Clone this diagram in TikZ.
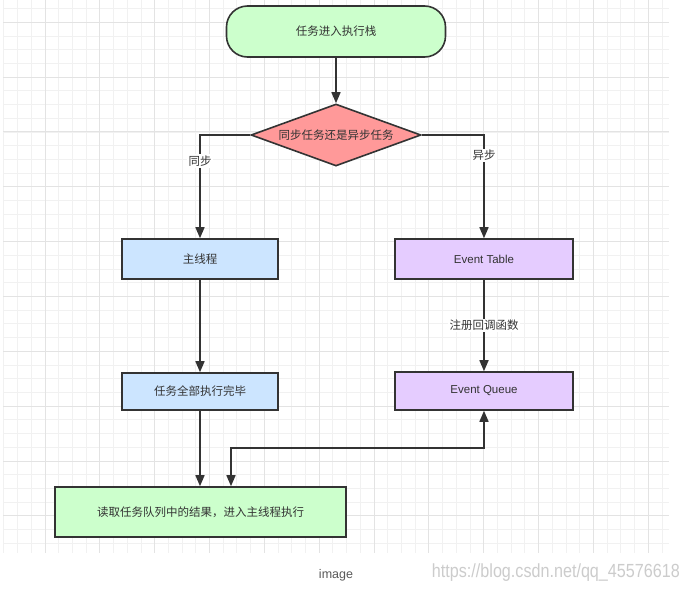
\documentclass[tikz,border=0pt]{standalone}
\usepackage{fontspec}
\setmainfont{Liberation Sans}
\newfontfamily\cjk{Noto Sans CJK SC}
\usetikzlibrary{shapes.geometric,arrows.meta}

\definecolor{ink}{HTML}{333333}
\definecolor{startgreen}{HTML}{CCFFCC}
\definecolor{decred}{HTML}{FF9999}
\definecolor{syncblue}{HTML}{CCE5FF}
\definecolor{asyncpurple}{HTML}{E5CCFF}
\definecolor{gridminor}{HTML}{F1F1F1}
\definecolor{gridmajor}{HTML}{E3E3E3}

\tikzset{
  txt/.style={text=ink, font=\fontsize{11.5}{14}\selectfont},
  cjktxt/.style={text=ink, font=\cjk\fontsize{11.5}{14}\selectfont},
  box/.style={draw=ink, line width=1.6pt, inner sep=0pt, rectangle},
  conn/.style={draw=ink, line width=1.6pt, -{Triangle[length=11pt,width=9pt]}},
  bothconn/.style={draw=ink, line width=1.6pt, {Triangle[length=11pt,width=9pt]}-{Triangle[length=11pt,width=9pt]}},
  edgelabel/.style={cjktxt, fill=white, inner sep=1.5pt},
  minorline/.style={draw=gridminor, line width=0.9pt},
  majorline/.style={draw=gridmajor, line width=1pt}
}

\begin{document}
\begin{tikzpicture}[x=1pt, y=-1pt]
  % page and background
  \useasboundingbox (0,0) rectangle (688,592);
  \fill[white] (0,0) rectangle (688,592);

  % grid paper
  \foreach \i in {-3,...,45}
    \draw[minorline] ({45+13.71*\i},0) -- ({45+13.71*\i},553);
  \foreach \i in {-1,...,38}
    \draw[minorline] (3,{22.3+13.71*\i}) -- (669,{22.3+13.71*\i});
  \foreach \j in {0,...,11}
    \draw[majorline] ({45+54.84*\j},0) -- ({45+54.84*\j},553);
  \foreach \j in {0,...,9}
    \draw[majorline] (3,{22.3+54.84*\j}) -- (669,{22.3+54.84*\j});

  % flowchart nodes
  \node[box, cjktxt, fill=startgreen, rounded corners=21pt,
        minimum width=219pt, minimum height=51pt] (start) at (336,31.5) {任务进入执行栈};
  \node[draw=ink, line width=1.6pt, diamond, aspect=2.74, inner sep=0pt,
        fill=decred, cjktxt, minimum width=170pt, minimum height=62pt] (dec) at (336,135) {同步任务还是异步任务};
  \node[box, cjktxt, fill=syncblue, minimum width=156pt, minimum height=40pt] (main) at (200,259) {主线程};
  \node[box, txt, fill=asyncpurple, minimum width=178pt, minimum height=40pt] (table) at (484,259) {Event Table};
  \node[box, cjktxt, fill=syncblue, minimum width=156pt, minimum height=37pt] (done) at (200,391.5) {任务全部执行完毕};
  \node[box, txt, fill=asyncpurple, minimum width=178pt, minimum height=38pt] (queue) at (484,391) {Event Queue};
  \node[box, cjktxt, fill=startgreen, minimum width=291pt, minimum height=50pt] (read) at (200.5,512) {读取任务队列中的结果，进入主线程执行};

  % connectors
  \draw[conn] (start.south) -- (dec.north);
  \draw[conn] (dec.west) -| (main.north) node[edgelabel, pos=0.625] {同步};
  \draw[conn] (dec.east) -| (table.north) node[edgelabel, pos=0.6] {异步};
  \draw[conn] (main.south) -- (done.north);
  \draw[conn] (table.south) -- (queue.north) node[edgelabel, midway] {注册回调函数};
  \draw[conn] (done.south) -- (done.south |- read.north);
  \coordinate (loopcorner) at (231,448);
  \draw[bothconn] (read.north -| loopcorner) -- (loopcorner) -| (queue.south);

  % caption and source line
  \node[text=black!65, font=\fontsize{12.5}{14}\selectfont, inner sep=0pt] (caption) at (336,575) {image};
  \node[text=black!20, inner sep=0pt, anchor=east] (source) at (680,572.5)
    {\scalebox{0.85}[1]{\fontsize{19}{22}\selectfont https://blog.csdn.net/qq\_45576618}};
\end{tikzpicture}
\end{document}
